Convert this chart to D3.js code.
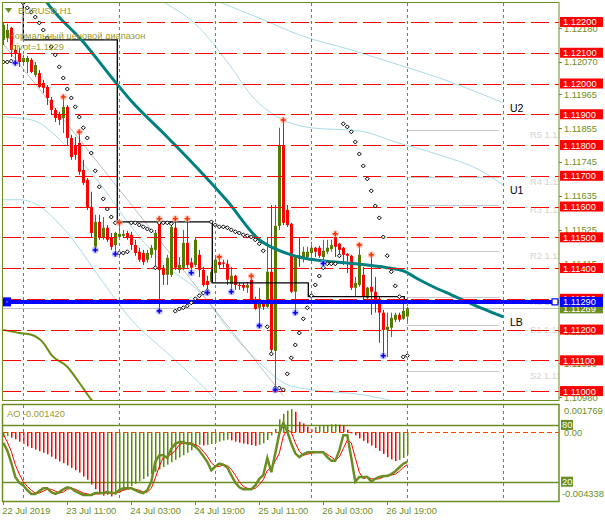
<!DOCTYPE html>
<html><head><meta charset="utf-8">
<script src="https://cdn.jsdelivr.net/npm/d3@7"></script>
<style>
html,body{margin:0;padding:0;background:#fff;}
svg{display:block;font-family:"Liberation Sans",Arial,sans-serif;}
</style></head><body>
<svg id="c" width="605" height="523"></svg>
<script>
// ---------- DATA ----------
const symbolTitle = "EURUSD,H1";
const rangeTitle = "Нормальный ценовой диапазон";
const pivotText = "pivot=1.1129";
const aoText = "AO -0.001420";
const tickIdx = [0,16,32,48,64,80,96];
const tickLabels = ["22 Jul 2019","23 Jul 11:00","24 Jul 03:00","24 Jul 19:00","25 Jul 11:00","26 Jul 03:00","26 Jul 19:00"];
const daySepIdx = [5,29,53,77,101,125];
const priceTicks = [1.1218,1.1207,1.11965,1.11855,1.11745,1.11635,1.11525,1.11415,1.11305,1.11195,1.1109,1.1098];
const levelVals = [1.122,1.121,1.120,1.119,1.118,1.117,1.116,1.115,1.114,1.113,1.112,1.111,1.110];
const pivotVal = 1.1129, bidVal = 1.11269;
const pivotNames = ["R5","R4","R3","R2","R1","S1","S2"];
const pivotLevels = [1.11849,1.11696,1.11605,1.11456,1.11306,1.11215,1.11066];
const pivotSpan = [101,124];

const open = [1.12142,1.12148,1.12181,1.12109,1.12096,1.12070,1.12070,1.12077,1.12028,1.12034,
1.12002,1.11989,1.11947,1.11914,1.11898,1.11888,1.11924,1.11823,1.11800,1.11807,
1.11719,1.11687,1.11599,1.11469,1.11550,1.11498,1.11531,1.11498,1.11475,1.11501,
1.11505,1.11514,1.11508,1.11475,1.11453,1.11449,1.11427,1.11443,1.11459,1.11550,
1.11401,1.11378,1.11378,1.11531,1.11394,1.11401,1.11482,1.11418,1.11410,1.11443,
1.11394,1.11358,1.11355,1.11384,1.11420,1.11418,1.11414,1.11349,1.11375,1.11345,
1.11345,1.11336,1.11362,1.11297,1.11271,1.11287,1.11274,1.11388,1.11131,1.11537,
1.11800,1.11589,1.11544,1.11323,1.11440,1.11433,1.11436,1.11449,1.11466,1.11466,
1.11436,1.11453,1.11462,1.11501,1.11479,1.11466,1.11446,1.11440,1.11336,1.11345,
1.11378,1.11303,1.11339,1.11323,1.11300,1.11255,1.11199,1.11206,1.11232,1.11248,
1.11235,1.11242];
const high = [1.12200,1.12194,1.12184,1.12125,1.12116,1.12093,1.12090,1.12083,1.12070,1.12044,
1.12012,1.11995,1.11956,1.11921,1.11908,1.11953,1.11930,1.11833,1.11826,1.11839,
1.11752,1.11693,1.11648,1.11573,1.11573,1.11566,1.11540,1.11514,1.11518,1.11544,
1.11524,1.11521,1.11518,1.11492,1.11466,1.11459,1.11459,1.11475,1.11524,1.11557,
1.11410,1.11443,1.11553,1.11557,1.11436,1.11524,1.11557,1.11433,1.11498,1.11459,
1.11404,1.11375,1.11404,1.11433,1.11433,1.11427,1.11427,1.11404,1.11378,1.11352,
1.11352,1.11355,1.11371,1.11307,1.11336,1.11297,1.11501,1.11605,1.11605,1.11856,
1.11878,1.11605,1.11547,1.11443,1.11501,1.11469,1.11469,1.11485,1.11469,1.11472,
1.11492,1.11492,1.11492,1.11508,1.11482,1.11469,1.11449,1.11443,1.11371,1.11472,
1.11404,1.11339,1.11440,1.11371,1.11307,1.11264,1.11255,1.11255,1.11255,1.11255,
1.11290,1.11274];
const low = [1.12125,1.12135,1.12086,1.12070,1.12054,1.12064,1.12034,1.12034,1.12021,1.11986,
1.11969,1.11930,1.11898,1.11875,1.11865,1.11839,1.11800,1.11752,1.11752,1.11703,
1.11670,1.11589,1.11501,1.11462,1.11492,1.11492,1.11485,1.11459,1.11449,1.11495,
1.11498,1.11492,1.11459,1.11440,1.11420,1.11410,1.11418,1.11433,1.11401,1.11264,
1.11345,1.11345,1.11371,1.11394,1.11384,1.11394,1.11401,1.11388,1.11404,1.11371,
1.11339,1.11323,1.11352,1.11355,1.11401,1.11401,1.11345,1.11326,1.11329,1.11329,
1.11326,1.11319,1.11293,1.11264,1.11216,1.11264,1.11271,1.11118,1.11007,1.11524,
1.11540,1.11534,1.11319,1.11258,1.11404,1.11418,1.11433,1.11436,1.11436,1.11433,
1.11418,1.11446,1.11453,1.11436,1.11436,1.11410,1.11384,1.11329,1.11307,1.11339,
1.11284,1.11297,1.11248,1.11255,1.11157,1.11118,1.11111,1.11176,1.11225,1.11225,
1.11232,1.11222];
const close = [1.12190,1.12174,1.12109,1.12096,1.12070,1.12083,1.12083,1.12038,1.12060,1.11989,
1.11986,1.11953,1.11914,1.11888,1.11882,1.11924,1.11823,1.11761,1.11768,1.11713,
1.11677,1.11596,1.11514,1.11550,1.11498,1.11531,1.11492,1.11469,1.11514,1.11511,
1.11511,1.11501,1.11475,1.11449,1.11427,1.11420,1.11449,1.11466,1.11514,1.11394,
1.11378,1.11433,1.11534,1.11401,1.11410,1.11482,1.11410,1.11401,1.11492,1.11394,
1.11345,1.11345,1.11388,1.11427,1.11410,1.11414,1.11362,1.11375,1.11345,1.11342,
1.11336,1.11345,1.11297,1.11267,1.11290,1.11274,1.11388,1.11134,1.11537,1.11800,
1.11547,1.11540,1.11323,1.11436,1.11430,1.11453,1.11453,1.11466,1.11453,1.11440,
1.11456,1.11466,1.11475,1.11469,1.11459,1.11443,1.11440,1.11336,1.11352,1.11443,
1.11307,1.11336,1.11323,1.11297,1.11255,1.11199,1.11209,1.11238,1.11248,1.11232,
1.11261,1.11269];

const fractalUp = [15,19,29,39,43,46,54,62,70,83,89,92];
const fractalDown = [3,23,28,39,47,51,57,64,68,73,80,95];

const sar = [1.12070,1.12070,1.12073,null,null,1.12262,1.12246,1.12232,1.12216,1.12197,
1.12174,1.12148,1.12119,1.12093,1.12054,1.12018,1.11982,1.11953,1.11924,1.11891,
1.11856,1.11823,1.11774,1.11716,1.11664,1.11625,1.11592,1.11566,1.11547,1.11449,
1.11449,1.11453,1.11547,1.11547,1.11540,1.11534,1.11527,1.11521,1.11401,1.11547,
1.11547,1.11547,1.11544,1.11260,1.11267,1.11271,1.11277,1.11287,1.11300,1.11310,
1.11319,1.11326,1.11550,1.11540,1.11534,1.11534,1.11531,1.11524,1.11518,1.11514,
1.11508,1.11505,1.11501,1.11492,1.11479,1.11456,1.11209,1.11121,1.11010,1.11010,
1.11004,1.11056,1.11108,1.11150,1.11189,1.11235,1.11271,1.11310,1.11345,1.11374,
1.11401,1.11414,1.11414,1.11414,1.11440,1.11869,1.11859,1.11843,1.11810,1.11771,
1.11732,1.11690,1.11651,1.11602,1.11563,1.11501,1.11440,1.11388,1.11342,1.11307,
1.11111,1.11115];

const maIdx = [9,11,20,28,32,40,48,56,64,68,72,76,80,88,96,100,104,108,112,116,120,125];
const maVal = [1.12301,1.12262,1.12135,1.12005,1.11943,1.11839,1.11732,1.11618,1.11492,1.11462,1.11443,1.11430,1.11423,1.11414,1.11401,1.11391,1.11362,1.11336,1.11313,1.11290,1.11267,1.11241];

const stepIdx = [0,5,28.5,52.25,76.25,100.25,101.2];
const stepVal = [1.12300,1.12142,1.11550,1.11352,1.11307,1.11297,1.11297];

const bandAIdx = [0,7,16,24,32,41,49,57,66,70,77,90,98];
const bandAVal = [1.11891,1.11882,1.11794,1.11677,1.11534,1.11404,1.11323,1.11189,1.11069,1.11027,1.11004,1.10988,1.10966];
const bandBIdx = [0,4,7,16,24,32,41,49,54];
const bandBVal = [1.11622,1.11622,1.11615,1.11514,1.11371,1.11232,1.11124,1.11027,1.10960];
const u1Idx = [40,49,56,63,67,77,89,98,109,119,125];
const u1Val = [1.12265,1.12181,1.12070,1.11947,1.11904,1.11856,1.11846,1.11810,1.11768,1.11719,1.11670];
const u2Idx = [50,54,64,74,87,99,109,119,125];
const u2Val = [1.12288,1.12265,1.12213,1.12158,1.12109,1.12060,1.12018,1.11969,1.11937];
const regIdx = [0,70];
const regVal = [1.12129,1.10985];
const oliveIdx = [0,4,7,10,12,16,19,22,24];
const oliveVal = [1.11199,1.11189,1.11183,1.11157,1.11118,1.11079,1.11027,1.10972,1.10940];

const ao = [-0.00030,-0.00025,-0.00035,-0.00045,-0.00060,-0.00075,-0.00090,-0.00100,-0.00110,-0.00120,
-0.00130,-0.00140,-0.00155,-0.00170,-0.00185,-0.00195,-0.00210,-0.00225,-0.00240,-0.00255,
-0.00280,-0.00300,-0.00330,-0.00360,-0.00385,-0.00400,-0.00395,-0.00405,-0.00395,-0.00382,
-0.00368,-0.00354,-0.00340,-0.00325,-0.00310,-0.00295,-0.00280,-0.00265,-0.00250,-0.00235,
-0.00220,-0.00205,-0.00190,-0.00175,-0.00160,-0.00145,-0.00130,-0.00115,-0.00100,-0.00080,
-0.00084,-0.00080,-0.00075,-0.00068,-0.00060,-0.00053,-0.00048,-0.00052,-0.00060,-0.00066,
-0.00072,-0.00077,-0.00082,-0.00086,-0.00080,-0.00070,-0.00050,-0.00020,0.00020,0.00080,
0.00115,0.00135,0.00145,0.00128,0.00065,0.00055,0.00035,0.00020,0.00032,0.00038,
0.00042,0.00045,0.00048,0.00050,0.00046,0.00040,0.00015,-0.00008,-0.00020,-0.00040,
-0.00055,-0.00070,-0.00085,-0.00100,-0.00118,-0.00138,-0.00158,-0.00172,-0.00182,-0.00175,
-0.00162,-0.00142];
const aoMax = 0.001769, aoMin = -0.004338;
const stochK = [61,53,40,25,19,16,11,7,7,10,13,13,9,7,9,12,14,13,10,8,6,6,6,8,8,8,9,8,8,11,
13,13,13,11,9,8,11,20,41,48,48,45,55,60,62,62,60,60,57,53,47,41,32,36,39,38,35,27,19,14,
12,12,12,16,23,27,45,30,50,71,82,73,60,50,46,49,51,51,51,51,51,46,42,42,53,69,69,45,20,25,
25,25,20,23,25,26,26,28,31,35,39,41];
const stochD = [70,62,52,38,28,20,15,11,8,8,10,12,12,10,8,9,12,13,12,10,8,7,6,7,7,8,8,8,8,9,
11,12,13,12,11,9,9,13,24,36,46,47,49,53,59,61,61,61,59,57,52,47,40,36,36,38,37,33,27,20,
15,13,12,13,17,22,32,34,42,50,68,75,72,61,52,48,49,50,51,51,51,49,46,43,46,55,64,61,45,30,
23,25,23,23,23,25,26,27,28,31,35,38];
const stochLevels = [80,20];

// ---------- STYLE ----------
const OLIVE = "#6B8E23", BULL = "#557A00", BEAR = "#FF0000", TXT = "#9A9A2A";
const AO_UP = "#5E8C00", AO_DN = "#FF0000";
const FS = 9.3;

// ---------- SCALES ----------
const svg = d3.select("#c");
const x = d3.scaleLinear().domain([0,139]).range([3.3,559.3]);
const y = d3.scaleLinear().domain([1.10971,1.12265]).range([400,2]);
const yAO = d3.scaleLinear().domain([aoMin,aoMax]).range([501,404]);
const yS = d3.scaleLinear().domain([0,100]).range([500.6,406]);
const px = v => Math.round(v)+0.5;
const ix = v => Math.round(v);

svg.append("rect").attr("width",605).attr("height",523).attr("fill","#fff");
const defs = svg.append("defs");
defs.append("clipPath").attr("id","cm").append("rect").attr("x",3).attr("y",3).attr("width",556).attr("height",397);
defs.append("clipPath").attr("id","ci").append("rect").attr("x",3).attr("y",405).attr("width",556).attr("height",96);
const gm = svg.append("g").attr("clip-path","url(#cm)");
const gi = svg.append("g").attr("clip-path","url(#ci)");

// day separators
daySepIdx.forEach(i=>{
  [[3,400],[405,501]].forEach(([a,b])=>{
    svg.append("line").attr("x1",px(x(i))).attr("x2",px(x(i))).attr("y1",a).attr("y2",b)
      .attr("stroke",OLIVE).attr("stroke-dasharray","3,3").attr("stroke-width",1);
  });
});

// pivot grey lines and labels
pivotLevels.forEach((v,k)=>{
  gm.append("line").attr("x1",x(pivotSpan[0])).attr("x2",x(pivotSpan[1])).attr("y1",px(y(v))).attr("y2",px(y(v)))
    .attr("stroke","#C8C8C8").attr("stroke-width",1);
  gm.append("text").attr("x",530).attr("y",y(v)+8).attr("font-size",FS).attr("fill","#D3D3D3")
    .text(pivotNames[k]+" "+v.toFixed(5));
});

// overlay lines
const lineGen = (ids,vals,curve)=>d3.line().x((d,k)=>x(ids[k])).y(d=>y(d)).curve(curve||d3.curveLinear)(vals);
[[bandAIdx,bandAVal],[bandBIdx,bandBVal],[u1Idx,u1Val],[u2Idx,u2Val]].forEach(([ids,vals])=>{
  gm.append("path").attr("d",lineGen(ids,vals,d3.curveMonotoneX)).attr("fill","none").attr("stroke","#A8DCE6").attr("stroke-width",1);
});
gm.append("path").attr("d",lineGen(regIdx,regVal)).attr("fill","none").attr("stroke","#BEBEBE").attr("stroke-width",1);
gm.append("path").attr("d",lineGen(oliveIdx,oliveVal,d3.curveMonotoneX)).attr("fill","none").attr("stroke","#6B8E10").attr("stroke-width",2);

// bid grey line
gm.append("line").attr("x1",3).attr("x2",559).attr("y1",px(y(bidVal))).attr("y2",px(y(bidVal))).attr("stroke","#C0C0C0").attr("stroke-width",1.2);

// candles (wicks as 1px rects)
const idx = d3.range(open.length);
const col = i => close[i]>=open[i]?BULL:BEAR;
gm.selectAll(".wick").data(idx).join("rect")
  .attr("x",i=>ix(x(i))).attr("width",1)
  .attr("y",i=>y(high[i])).attr("height",i=>y(low[i])-y(high[i]))
  .attr("fill",col);
gm.selectAll(".body").data(idx).join("rect")
  .attr("x",i=>ix(x(i))-1).attr("width",3)
  .attr("y",i=>y(Math.max(open[i],close[i])))
  .attr("height",i=>Math.max(1,Math.abs(y(open[i])-y(close[i]))))
  .attr("fill",col);

// step line
gm.append("path").attr("d",lineGen(stepIdx,stepVal,d3.curveStepAfter)).attr("fill","none").attr("stroke","#000").attr("stroke-width",1.3);

// teal MA
gm.append("path").attr("d",lineGen(maIdx,maVal,d3.curveMonotoneX)).attr("fill","none").attr("stroke","#008080").attr("stroke-width",3);

// red dashed levels
levelVals.forEach(v=>{
  gm.append("line").attr("x1",3).attr("x2",559).attr("y1",px(y(v))).attr("y2",px(y(v)))
    .attr("stroke","#FF0000").attr("stroke-width",1).attr("stroke-dasharray","18,6");
});

// blue pivot line
const yp = y(pivotVal);
gm.append("line").attr("x1",3).attr("x2",559).attr("y1",yp).attr("y2",yp).attr("stroke","#0000FF").attr("stroke-width",4);
svg.append("rect").attr("x",3).attr("y",yp-4.5).attr("width",8).attr("height",9).attr("fill","#0000FF");
svg.append("rect").attr("x",6.5).attr("y",yp-0.5).attr("width",1).attr("height",1).attr("fill","#fff");
svg.append("rect").attr("x",552).attr("y",yp-3).attr("width",6).attr("height",6).attr("fill","#fff").attr("stroke","#0000FF").attr("stroke-width",1.2);

// SAR dots
const sarIdx = idx.filter(i=>sar[i]!==null);
gm.selectAll(".sar").data(sarIdx).join("path")
  .attr("d",i=>{const cx=x(i), cy=y(sar[i]); return `M${cx},${cy-2}L${cx+2},${cy}L${cx},${cy+2}L${cx-2},${cy}Z`;})
  .attr("fill","#fff").attr("stroke","#000").attr("stroke-width",1);

// fractals
function cross(g,cx,cy,c,halo){
  g.append("circle").attr("cx",cx).attr("cy",cy).attr("r",3.5).attr("fill",halo).attr("opacity",0.6);
  g.append("path").attr("d",`M${cx-2.5},${cy}H${cx+2.5}M${cx},${cy-2.5}V${cy+2.5}`).attr("stroke",c).attr("stroke-width",1.6);
}
fractalUp.forEach(i=>cross(gm,x(i),y(high[i])-1,"#FF3000","#FFB0A0"));
fractalDown.forEach(i=>cross(gm,x(i),y(low[i])+1,"#0000FF","#A0A0FF"));

// right-end labels
[["U2",u2Val],["U1",u1Val]].forEach(([t,v])=>{
  svg.append("text").attr("x",510).attr("y",y(v[v.length-1])+9).attr("font-size",10.5).attr("fill","#000").text(t);
});
svg.append("text").attr("x",510).attr("y",y(maVal[maVal.length-1])+9).attr("font-size",10.5).attr("fill","#000").text("LB");

// title texts
svg.append("path").attr("d","M5,8L12,8L8.5,13Z").attr("fill",OLIVE);
svg.append("text").attr("x",18).attr("y",14).attr("font-size",FS).attr("fill",TXT).text(symbolTitle);
svg.append("text").attr("x",8).attr("y",39).attr("font-size",FS).attr("fill",TXT).text(rangeTitle);
svg.append("text").attr("x",11).attr("y",50).attr("font-size",FS).attr("fill",TXT).text(pivotText);

// ---------- INDICATOR ----------
stochLevels.forEach(v=>{
  gi.append("line").attr("x1",3).attr("x2",559).attr("y1",px(yS(v))).attr("y2",px(yS(v))).attr("stroke",OLIVE).attr("stroke-width",1.5);
});
const y0 = yAO(0);
gi.append("line").attr("x1",3).attr("x2",559).attr("y1",px(y0)).attr("y2",px(y0)).attr("stroke","#FF4500").attr("stroke-width",1).attr("stroke-dasharray","5,3");
gi.selectAll(".ao").data(idx).join("rect")
  .attr("x",i=>ix(x(i))).attr("width",1.5)
  .attr("y",i=>Math.min(y0,yAO(ao[i]))).attr("height",i=>Math.abs(yAO(ao[i])-y0))
  .attr("fill",i=> (i===0 || ao[i]>ao[i-1]) ? AO_UP : AO_DN);
gi.append("path").attr("d",d3.line().x((d,i)=>x(i)).y(d=>yS(d)).curve(d3.curveLinear)(stochD)).attr("fill","none").attr("stroke","#FF0000").attr("stroke-width",1);
gi.append("path").attr("d",d3.line().x((d,i)=>x(i)).y(d=>yS(d)).curve(d3.curveLinear)(stochK)).attr("fill","none").attr("stroke",OLIVE).attr("stroke-width",2.5);
svg.append("text").attr("x",7).attr("y",417).attr("font-size",FS).attr("fill",TXT).text(aoText);

// frames
svg.append("rect").attr("x",2.5).attr("y",2.5).attr("width",556.5).attr("height",398).attr("fill","none").attr("stroke",OLIVE).attr("stroke-width",1);
svg.append("rect").attr("x",2.5).attr("y",404.5).attr("width",556.5).attr("height",97).attr("fill","none").attr("stroke",OLIVE).attr("stroke-width",1.5);

// ---------- RIGHT AXIS ----------
const fmt5 = d3.format(".5f");
priceTicks.forEach(v=>{
  svg.append("line").attr("x1",559).attr("x2",562).attr("y1",px(y(v))).attr("y2",px(y(v))).attr("stroke",OLIVE);
  svg.append("text").attr("x",564).attr("y",y(v)+3.5).attr("font-size",FS).attr("fill",OLIVE).text(fmt5(v));
});
function boxLabel(v,fill,txt){
  const yy = y(v);
  svg.append("rect").attr("x",560).attr("y",yy-5).attr("width",43).attr("height",10).attr("fill",fill);
  svg.append("text").attr("x",563).attr("y",yy+3.5).attr("font-size",FS).attr("fill","#fff").text(txt);
}
levelVals.forEach(v=>boxLabel(v,"#FF0000",fmt5(v)));
boxLabel(bidVal,OLIVE,fmt5(bidVal));
boxLabel(pivotVal,"#0000FF",fmt5(pivotVal));

// indicator axis labels
svg.append("text").attr("x",564).attr("y",414).attr("font-size",FS).attr("fill",OLIVE).text(aoMax.toFixed(6));
svg.append("text").attr("x",564).attr("y",y0+4).attr("font-size",FS).attr("fill",OLIVE).text("0.00");
stochLevels.forEach(v=>{
  const yy = yS(v);
  svg.append("rect").attr("x",561).attr("y",yy-5).attr("width",12).attr("height",10).attr("fill",OLIVE);
  svg.append("text").attr("x",562).attr("y",yy+3.5).attr("font-size",FS).attr("fill","#fff").text(v);
});
svg.append("text").attr("x",562).attr("y",497).attr("font-size",FS).attr("fill",OLIVE).text(aoMin.toFixed(6));

// ---------- TIME AXIS ----------
tickIdx.forEach((i,k)=>{
  svg.append("line").attr("x1",px(x(i))).attr("x2",px(x(i))).attr("y1",501).attr("y2",505).attr("stroke",OLIVE);
  svg.append("text").attr("x",x(i)-1).attr("y",514).attr("font-size",FS).attr("fill",OLIVE).text(tickLabels[k]);
});
</script>
</body></html>
